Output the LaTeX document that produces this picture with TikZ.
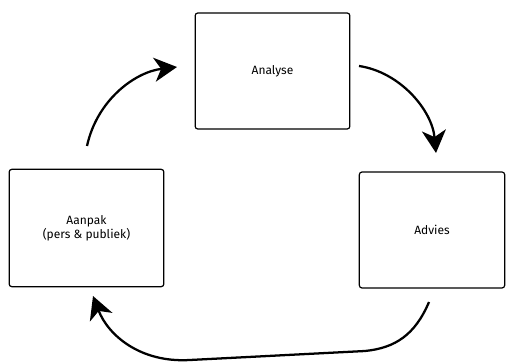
\documentclass[tikz,border=0pt]{standalone}
\usepackage{fontspec}
\setmainfont{Fira Sans}
\usetikzlibrary{arrows.meta}
\tikzset{
  box/.style={draw, line width=0.9pt, rounded corners=2pt, minimum width=116pt,
    minimum height=87pt, align=center, font=\fontsize{9}{9.5}\selectfont},
  cyclearrow/.style={line width=1.7pt, -{Stealth[length=17pt,width=18pt,inset=5pt]}}
}
\begin{document}
\begin{tikzpicture}[x=0.75pt, y=-0.75pt]
    \useasboundingbox (0, 0) rectangle (507, 363);
    \node[box] (analyse) at (272.5, 71) {Analyse};
    \node[box, minimum width=109pt] (advies) at (432, 230) {Advies};
    \node[box, minimum height=88pt] (aanpak) at (86.5, 228) {Aanpak\\(pers \& publiek)};
    \coordinate (left start) at (87, 146);
    \coordinate (left end) at (177, 67);
    \coordinate (right start) at (359, 66);
    \coordinate (right end) at (436, 153);
    \coordinate (bottom start) at (429, 302);
    \coordinate (bottom end) at (93, 296);
    \draw[cyclearrow] (left start) .. controls (97, 100) and (135, 72) .. (left end);
    \draw[cyclearrow] (right start) .. controls (400, 72) and (432, 110) .. (right end);
    \draw[cyclearrow] (bottom start) .. controls (415, 335) and (395, 348) .. (365, 351)
      -- (190, 360) .. controls (140, 363) and (108, 335) .. (bottom end);
\end{tikzpicture}
\end{document}
